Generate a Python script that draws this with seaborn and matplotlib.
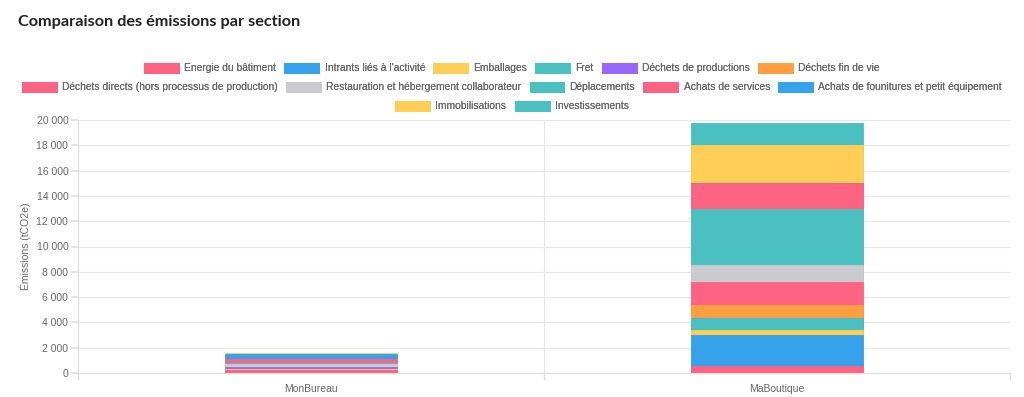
import numpy as np
import pandas as pd
import matplotlib
matplotlib.use("Agg")
import matplotlib.pyplot as plt
import matplotlib.patches as mpatches
from matplotlib.ticker import FuncFormatter, FixedLocator
import seaborn as sns

sites = ["MonBureau", "MaBoutique"]
series = [
    "Energie du bâtiment", "Intrants liés à l'activité", "Emballages", "Fret",
    "Déchets de productions", "Déchets fin de vie",
    "Déchets directs (hors processus de production)",
    "Restauration et hébergement collaborateur", "Déplacements",
    "Achats de services", "Achats de founitures et petit équipement",
    "Immobilisations", "Investissements",
]
colors = ["#FF6384", "#36A2EB", "#FFCE56", "#4BC0C0", "#9966FF", "#FF9F40",
          "#FF6384", "#C9CBCF", "#4BC0C0", "#FF6384", "#36A2EB", "#FFCE56", "#4BC0C0"]
mon_bureau = [250, 20, 10, 60, 100, 20, 40, 180, 80, 380, 370, 40, 10]
ma_boutique = [554, 2485, 396, 950, 0, 974, 1844, 1298, 4432, 2082, 0, 3031, 1741]
legend_rows = [6, 5, 2]

sns.set_theme(style="white")
plt.rcParams["font.family"] = ["Liberation Sans", "DejaVu Sans"]

fig = plt.figure(figsize=(10.24, 3.97), dpi=100)
ax = fig.add_axes([78/1024, 24/397, 932/1024, 253/397])

df = pd.DataFrame({"site": np.repeat(sites, len(series)),
                   "series": series * 2,
                   "value": mon_bureau + ma_boutique})
df["cum"] = df.groupby("site")["value"].cumsum()

for i in range(len(series) - 1, -1, -1):
    sub = df[df["series"] == series[i]]
    sns.barplot(data=sub, x="site", y="cum", order=sites, color=colors[i],
                width=0.367, saturation=1, ax=ax, edgecolor=colors[i],
                linewidth=0.6, errorbar=None)

ax.set_xlim(-0.5, 1.5)
ax.set_ylim(0, 20000)
ax.set_yticks(np.arange(0, 20001, 2000))
ax.yaxis.set_major_formatter(FuncFormatter(lambda v, p: f"{int(v):,}".replace(",", " ")))
ax.grid(axis="y", color="#e6e6e6", linewidth=0.8)
ax.set_axisbelow(True)
for xv in [-0.5, 0.5, 1.5]:
    ax.axvline(xv, color="#e6e6e6", linewidth=0.8, zorder=0)
ax.xaxis.set_minor_locator(FixedLocator([-0.5, 0.5, 1.5]))
ax.tick_params(axis="x", which="major", length=0, pad=8, labelsize=7.5, labelcolor="#666666")
ax.tick_params(axis="x", which="minor", length=5, color="#e0e0e0", bottom=True)
ax.tick_params(axis="y", length=5, color="#e0e0e0", left=True, labelsize=7.5,
               labelcolor="#666666", pad=2)
for s in ["top", "right"]:
    ax.spines[s].set_visible(False)
for s in ["left", "bottom"]:
    ax.spines[s].set_color("#dcdcdc")
    ax.spines[s].set_linewidth(0.8)
ax.set_xlabel("")
ax.set_ylabel("Émissions (tCO2e)", fontsize=7.5, color="#666666", labelpad=4)

fig.text(18/1024, 1 - 22/397, "Comparaison des émissions par section",
         fontsize=11.7, fontweight="bold", color="#222222", va="center",
         family=["Lato", "DejaVu Sans"])

idx = 0
row_y = [68, 87, 106]
for r, n in enumerate(legend_rows):
    handles = []
    for j in range(idx, idx + n):
        handles.append(mpatches.Patch(facecolor=colors[j], edgecolor=colors[j],
                                      linewidth=0.6, label=series[j]))
    idx += n
    leg = fig.legend(handles=handles, loc="center", ncol=n,
                     bbox_to_anchor=(0.5, 1 - row_y[r]/397), frameon=False,
                     fontsize=7.4, handlelength=3.4, handleheight=1.1,
                     handletextpad=0.5, columnspacing=0.8, borderpad=0, labelcolor="#666666")
    fig.add_artist(leg)

fig.savefig("out.png", dpi=100)
